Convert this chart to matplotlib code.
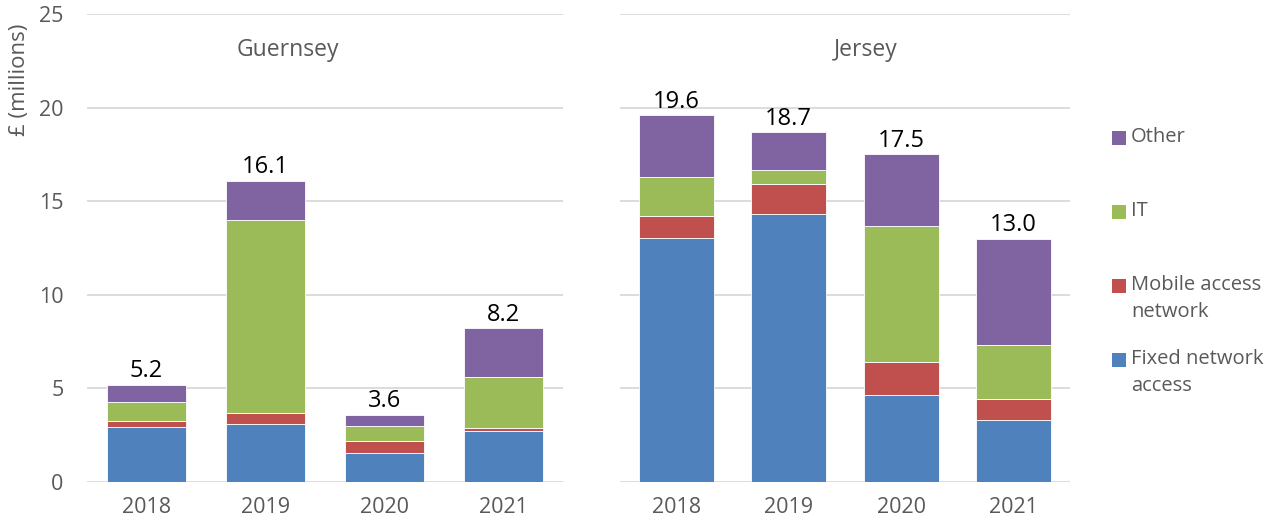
import matplotlib
matplotlib.use('Agg')
import matplotlib.pyplot as plt
import numpy as np
from matplotlib.patches import Rectangle

years = ['2018', '2019', '2020', '2021']
series = ['Fixed network access', 'Mobile access network', 'IT', 'Other']
colors = ['#4F81BD', '#C0504D', '#9BBB59', '#8064A2']

# segment values, £ millions
guernsey_fixed = [2.95, 3.09, 1.53, 2.72]
guernsey_mobile = [0.30, 0.62, 0.67, 0.16]
guernsey_it = [1.01, 10.27, 0.80, 2.71]
guernsey_other = [0.94, 2.12, 0.60, 2.61]
guernsey_total = [5.2, 16.1, 3.6, 8.2]

jersey_fixed = [13.03, 14.29, 4.66, 3.33]
jersey_mobile = [1.17, 1.63, 1.74, 1.10]
jersey_it = [2.08, 0.73, 7.27, 2.89]
jersey_other = [3.32, 2.05, 3.83, 5.68]
jersey_total = [19.6, 18.7, 17.5, 13.0]

plt.rcParams['font.family'] = ['Open Sans', 'DejaVu Sans']
GREY = '#595959'

W, H = 1272, 526
fig = plt.figure(figsize=(W / 100, H / 100), dpi=100)

def px(x0, y0, x1, y1):
    return [x0 / W, 1 - y1 / H, (x1 - x0) / W, (y1 - y0) / H]

ax_g = fig.add_axes(px(87, 14, 563, 482))
ax_j = fig.add_axes(px(620, 14, 1070, 482))

panels = [
    (ax_g, 'Guernsey', 288, [guernsey_fixed, guernsey_mobile, guernsey_it, guernsey_other], guernsey_total),
    (ax_j, 'Jersey', 866, [jersey_fixed, jersey_mobile, jersey_it, jersey_other], jersey_total),
]

x = np.arange(len(years))
for ax, name, title_x, parts, totals in panels:
    bottom = np.zeros(len(years))
    for vals, col in zip(parts, colors):
        ax.bar(x, vals, bottom=bottom, width=0.67, color=col,
               edgecolor='white', linewidth=0.6, zorder=3)
        bottom += np.array(vals)
    for xi, t, b in zip(x, totals, bottom):
        ax.annotate(f'{t:.1f}', (xi, b), xytext=(0, 1), textcoords='offset points',
                    ha='center', va='bottom', fontsize=17, color='black')
    ax.set_xlim(-0.5, len(years) - 0.5)
    ax.set_ylim(0, 25)
    ax.set_yticks([0, 5, 10, 15, 20, 25])
    ax.yaxis.grid(True, color='#D9D9D9', linewidth=1.3, zorder=0)
    ax.set_axisbelow(True)
    for s in ax.spines.values():
        s.set_visible(False)
    ax.set_xticks(x)
    ax.set_xticklabels(years)
    ax.tick_params(axis='x', length=0, labelsize=15.5, colors=GREY, pad=11)
    ax.tick_params(axis='y', length=0, labelsize=15.5, colors=GREY, pad=17)
    fig.text(title_x / W, 1 - 50 / H, name, ha='center', va='center',
             fontsize=16.5, color=GREY)

ax_j.set_yticklabels([])
fig.text(20 / W, 1 - 80 / H, '£ (millions)', rotation=90, ha='center', va='center',
         fontsize=16, color=GREY)

# legend drawn on the right, top to bottom: Other, IT, Mobile, Fixed
legend_y = [138, 212, 286, 360]
for lab, col, ly in zip(series[::-1], colors[::-1], legend_y):
    fig.patches.append(Rectangle((1112 / W, 1 - (ly + 7) / H), 14 / W, 14 / H,
                                 transform=fig.transFigure, facecolor=col,
                                 edgecolor='none'))
    wrapped = lab.replace('access network', 'access\nnetwork').replace('network access', 'network\naccess')
    fig.text(1131 / W, 1 - (ly - 11) / H, wrapped, ha='left', va='top', fontsize=14.5,
             color=GREY, linespacing=1.45)

fig.savefig('out.png', dpi=100)
